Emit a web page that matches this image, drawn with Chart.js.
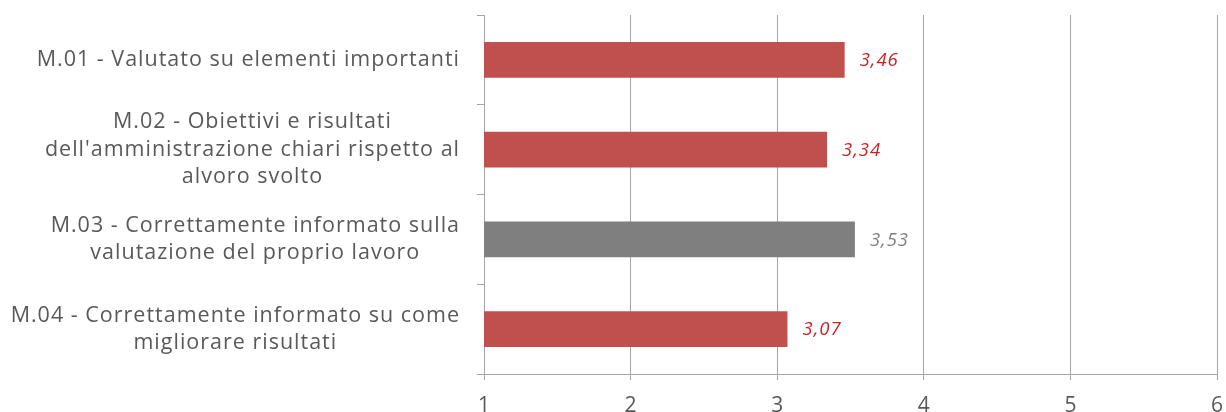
<!DOCTYPE html>
<html>
<head>
<meta charset="utf-8">
<script src="https://cdn.jsdelivr.net/npm/chart.js@4.4.1/dist/chart.umd.min.js"></script>
<style>
  html, body { margin: 0; padding: 0; background: #ffffff; }
  #wrap { width: 1226px; height: 412px; position: relative; }
</style>
</head>
<body>
<div id="wrap"><canvas id="itemsChart"></canvas></div>
<script>
// Item labels (one array of lines per item)
const itemLabels = [
  ['M.01 - Valutato su elementi importanti'],
  ['M.02 - Obiettivi e risultati', "dell'amministrazione chiari rispetto al", 'alvoro svolto'],
  ['M.03 - Correttamente informato sulla', 'valutazione del proprio lavoro'],
  ['M.04 - Correttamente informato su come', 'migliorare risultati']
];
const itemScores = [3.46, 3.34, 3.53, 3.07];
const barColors = ['#c0504d', '#c0504d', '#7f7f7f', '#c0504d'];
const valueColors = ['#cc1f1f', '#cc1f1f', '#7f7f7f', '#cc1f1f'];
const scaleMin = 1;
const scaleMax = 6;

const FONT = "'Open Sans', sans-serif";
const TEXT = '#595959';
const GRID = '#a6a6a6';

// Multi-line category labels: block right-aligned, lines centred inside it
const itemLabelPlugin = {
  id: 'itemLabels',
  afterDraw(chart) {
    const ctx = chart.ctx;
    const yScale = chart.scales.y;
    const right = chart.chartArea.left - 24;
    const lineHeight = 27.5;
    ctx.save();
    ctx.font = '21.5px ' + FONT;
    ctx.letterSpacing = '1px';
    ctx.fillStyle = TEXT;
    ctx.textAlign = 'center';
    ctx.textBaseline = 'middle';
    itemLabels.forEach((lines, i) => {
      const yc = yScale.getPixelForValue(i);
      const blockW = Math.max(...lines.map(l => ctx.measureText(l).width));
      const cx = right - blockW / 2;
      const y0 = yc - (lines.length - 1) * lineHeight / 2;
      lines.forEach((l, j) => ctx.fillText(l, cx, y0 + j * lineHeight));
    });
    ctx.restore();
  }
};

// Score printed after each bar end
const valueLabelPlugin = {
  id: 'valueLabels',
  afterDatasetsDraw(chart) {
    const ctx = chart.ctx;
    const meta = chart.getDatasetMeta(0);
    ctx.save();
    ctx.font = 'italic 18.5px ' + FONT;
    ctx.letterSpacing = '1px';
    ctx.textAlign = 'left';
    ctx.textBaseline = 'middle';
    meta.data.forEach((bar, i) => {
      ctx.fillStyle = valueColors[i];
      ctx.fillText(itemScores[i].toFixed(2).replace('.', ','), bar.x + 15, bar.y + 1);
    });
    ctx.restore();
  }
};

new Chart(document.getElementById('itemsChart'), {
  type: 'bar',
  data: {
    labels: itemLabels.map(l => l.join(' ')),
    datasets: [{
      data: itemScores,
      backgroundColor: barColors,
      borderWidth: 0,
      categoryPercentage: 0.8,
      barPercentage: 0.5
    }]
  },
  plugins: [itemLabelPlugin, valueLabelPlugin],
  options: {
    indexAxis: 'y',
    responsive: true,
    maintainAspectRatio: false,
    animation: false,
    layout: { padding: { top: 15, right: 9, left: 0, bottom: 0 } },
    plugins: {
      legend: { display: false },
      tooltip: { enabled: false }
    },
    scales: {
      x: {
        min: scaleMin,
        max: scaleMax,
        ticks: {
          stepSize: 1,
          color: TEXT,
          font: { family: FONT, size: 21 },
          padding: 13
        },
        grid: {
          color: GRID,
          lineWidth: 1,
          tickLength: 6,
          drawTicks: true
        },
        border: { color: GRID, width: 1 },
        afterFit(scale) {
          scale.height = 38;
          // let the last tick label run past the edge instead of shrinking the plot
          scale.paddingLeft = 0;
          scale.paddingRight = 0;
        }
      },
      y: {
        ticks: { display: false },
        grid: {
          drawOnChartArea: false,
          color: GRID,
          tickLength: 7,
          offset: true
        },
        border: { color: GRID, width: 1 },
        afterFit(scale) { scale.width = 484; }
      }
    }
  }
});
</script>
</body>
</html>
